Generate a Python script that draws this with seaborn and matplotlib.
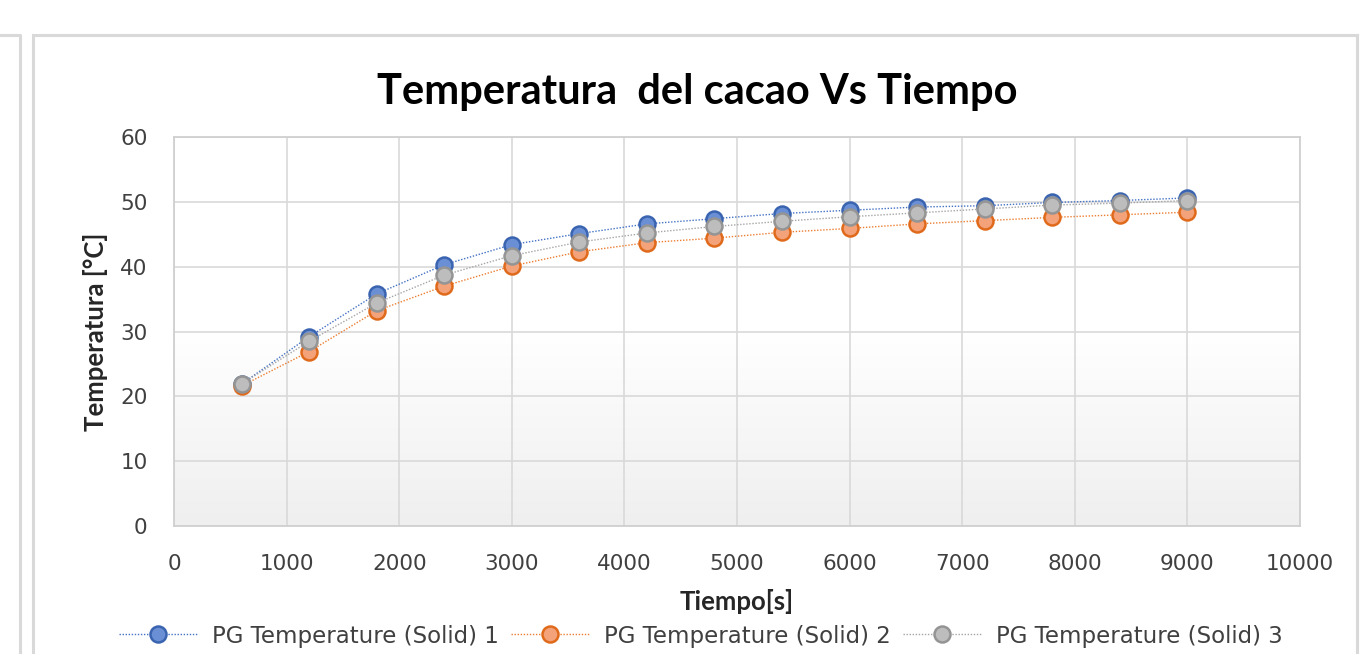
import numpy as np
import pandas as pd
import seaborn as sns
import matplotlib.pyplot as plt
from matplotlib.patches import Rectangle
from matplotlib.lines import Line2D
from matplotlib.colors import LinearSegmentedColormap

# Tiempo [s]
tiempo = [600, 1200, 1800, 2400, 3000, 3600, 4200, 4800, 5400, 6000, 6600, 7200, 7800, 8400, 9000]
# Temperatura [°C] por sonda
solid1 = [21.9, 29.2, 35.8, 40.3, 43.4, 45.1, 46.6, 47.4, 48.2, 48.7, 49.2, 49.4, 49.9, 50.2, 50.6]
solid2 = [21.6, 26.9, 33.2, 37.0, 40.1, 42.3, 43.7, 44.4, 45.3, 45.9, 46.6, 47.1, 47.6, 48.0, 48.4]
solid3 = [21.9, 28.5, 34.4, 38.7, 41.7, 43.8, 45.2, 46.2, 47.0, 47.7, 48.3, 48.9, 49.5, 49.8, 50.2]

names = ["PG Temperature (Solid) 1", "PG Temperature (Solid) 2", "PG Temperature (Solid) 3"]
colores = ["#4472C4", "#ED7D31", "#A5A5A5"]
bordes = ["#3A64B0", "#E06A1B", "#949494"]
rellenos = ["#6A8FD4", "#F4A27A", "#BDBDBD"]

df = pd.concat([
    pd.DataFrame({"Tiempo": tiempo, "Temp": s, "serie": n})
    for s, n in zip([solid1, solid2, solid3], names)
])

sns.set_style("white")
plt.rcParams["font.family"] = ["DejaVu Sans"]

fig = plt.figure(figsize=(13.72, 6.54), dpi=100)
ax = fig.add_axes([174 / 1372, 1 - 526 / 654, 1126 / 1372, 389 / 654])

# outer chart frames
fig.patches.append(Rectangle((33 / 1372, -0.1), (1357 - 33) / 1372, 1 - 35 / 654 + 0.1,
                             transform=fig.transFigure, fill=False, edgecolor="#d9d9d9", linewidth=2.2))
fig.lines.append(Line2D([0, 20 / 1372, 20 / 1372], [1 - 35 / 654, 1 - 35 / 654, 0],
                        transform=fig.transFigure, color="#d9d9d9", linewidth=2.2))

# gradient plot background
grad = np.linspace(0, 1, 256).reshape(-1, 1)
cmap = LinearSegmentedColormap.from_list("g", ["#ffffff", "#ffffff", "#efefef"])
ax.imshow(grad, extent=[0, 1, 0, 1], transform=ax.transAxes, cmap=cmap,
          aspect="auto", zorder=0, origin="upper")

for n, c, ec, fc in zip(names, colores, bordes, rellenos):
    sub = df[df["serie"] == n]
    sns.lineplot(data=sub, x="Tiempo", y="Temp", ax=ax, color=c, linestyle=(0, (1, 1.2)),
                 linewidth=1.0, marker="o", markersize=11.5, markerfacecolor=fc,
                 markeredgecolor=ec, markeredgewidth=1.8, label=n, zorder=3)

ax.set_xlim(0, 10000)
ax.set_ylim(0, 60)
ax.set_xticks(range(0, 10001, 1000))
ax.set_yticks(range(0, 61, 10))
ax.grid(True, color="#d9d9d9", linewidth=1.2, zorder=1)
ax.set_axisbelow(True)
for side in ["top", "right", "left", "bottom"]:
    ax.spines[side].set_color("#d0d0d0")
    ax.spines[side].set_linewidth(1.3)
ax.tick_params(axis="x", length=0, pad=20, labelsize=15.5, labelcolor="#404040")
ax.tick_params(axis="y", length=0, pad=19, labelsize=15.5, labelcolor="#404040")

ax.set_xlabel("Tiempo[s]", fontsize=18.5, fontweight="bold", family="Lato", va="center")
ax.xaxis.set_label_coords(0.5, (526 - 601) / -389 * -1)
ax.set_ylabel("Temperatura [°C]", fontsize=18.5, fontweight="bold", family="Lato", va="center")
ax.yaxis.set_label_coords((95 - 174) / 1126, 0.5)
fig.text(697 / 1372, 1 - 92 / 654, "Temperatura  del cacao Vs Tiempo", ha="center", va="center",
         fontsize=30, fontweight="bold", family="Lato", color="#000000")

leg = ax.legend(loc="center", bbox_to_anchor=(701 / 1372, 1 - 636 / 654), bbox_transform=fig.transFigure,
                ncol=3, frameon=False, fontsize=16.5, handlelength=3.4, columnspacing=0.55,
                handletextpad=0.65, borderpad=0, borderaxespad=0)
for t in leg.get_texts():
    t.set_color("#404040")

fig.savefig("out.png", dpi=100)
